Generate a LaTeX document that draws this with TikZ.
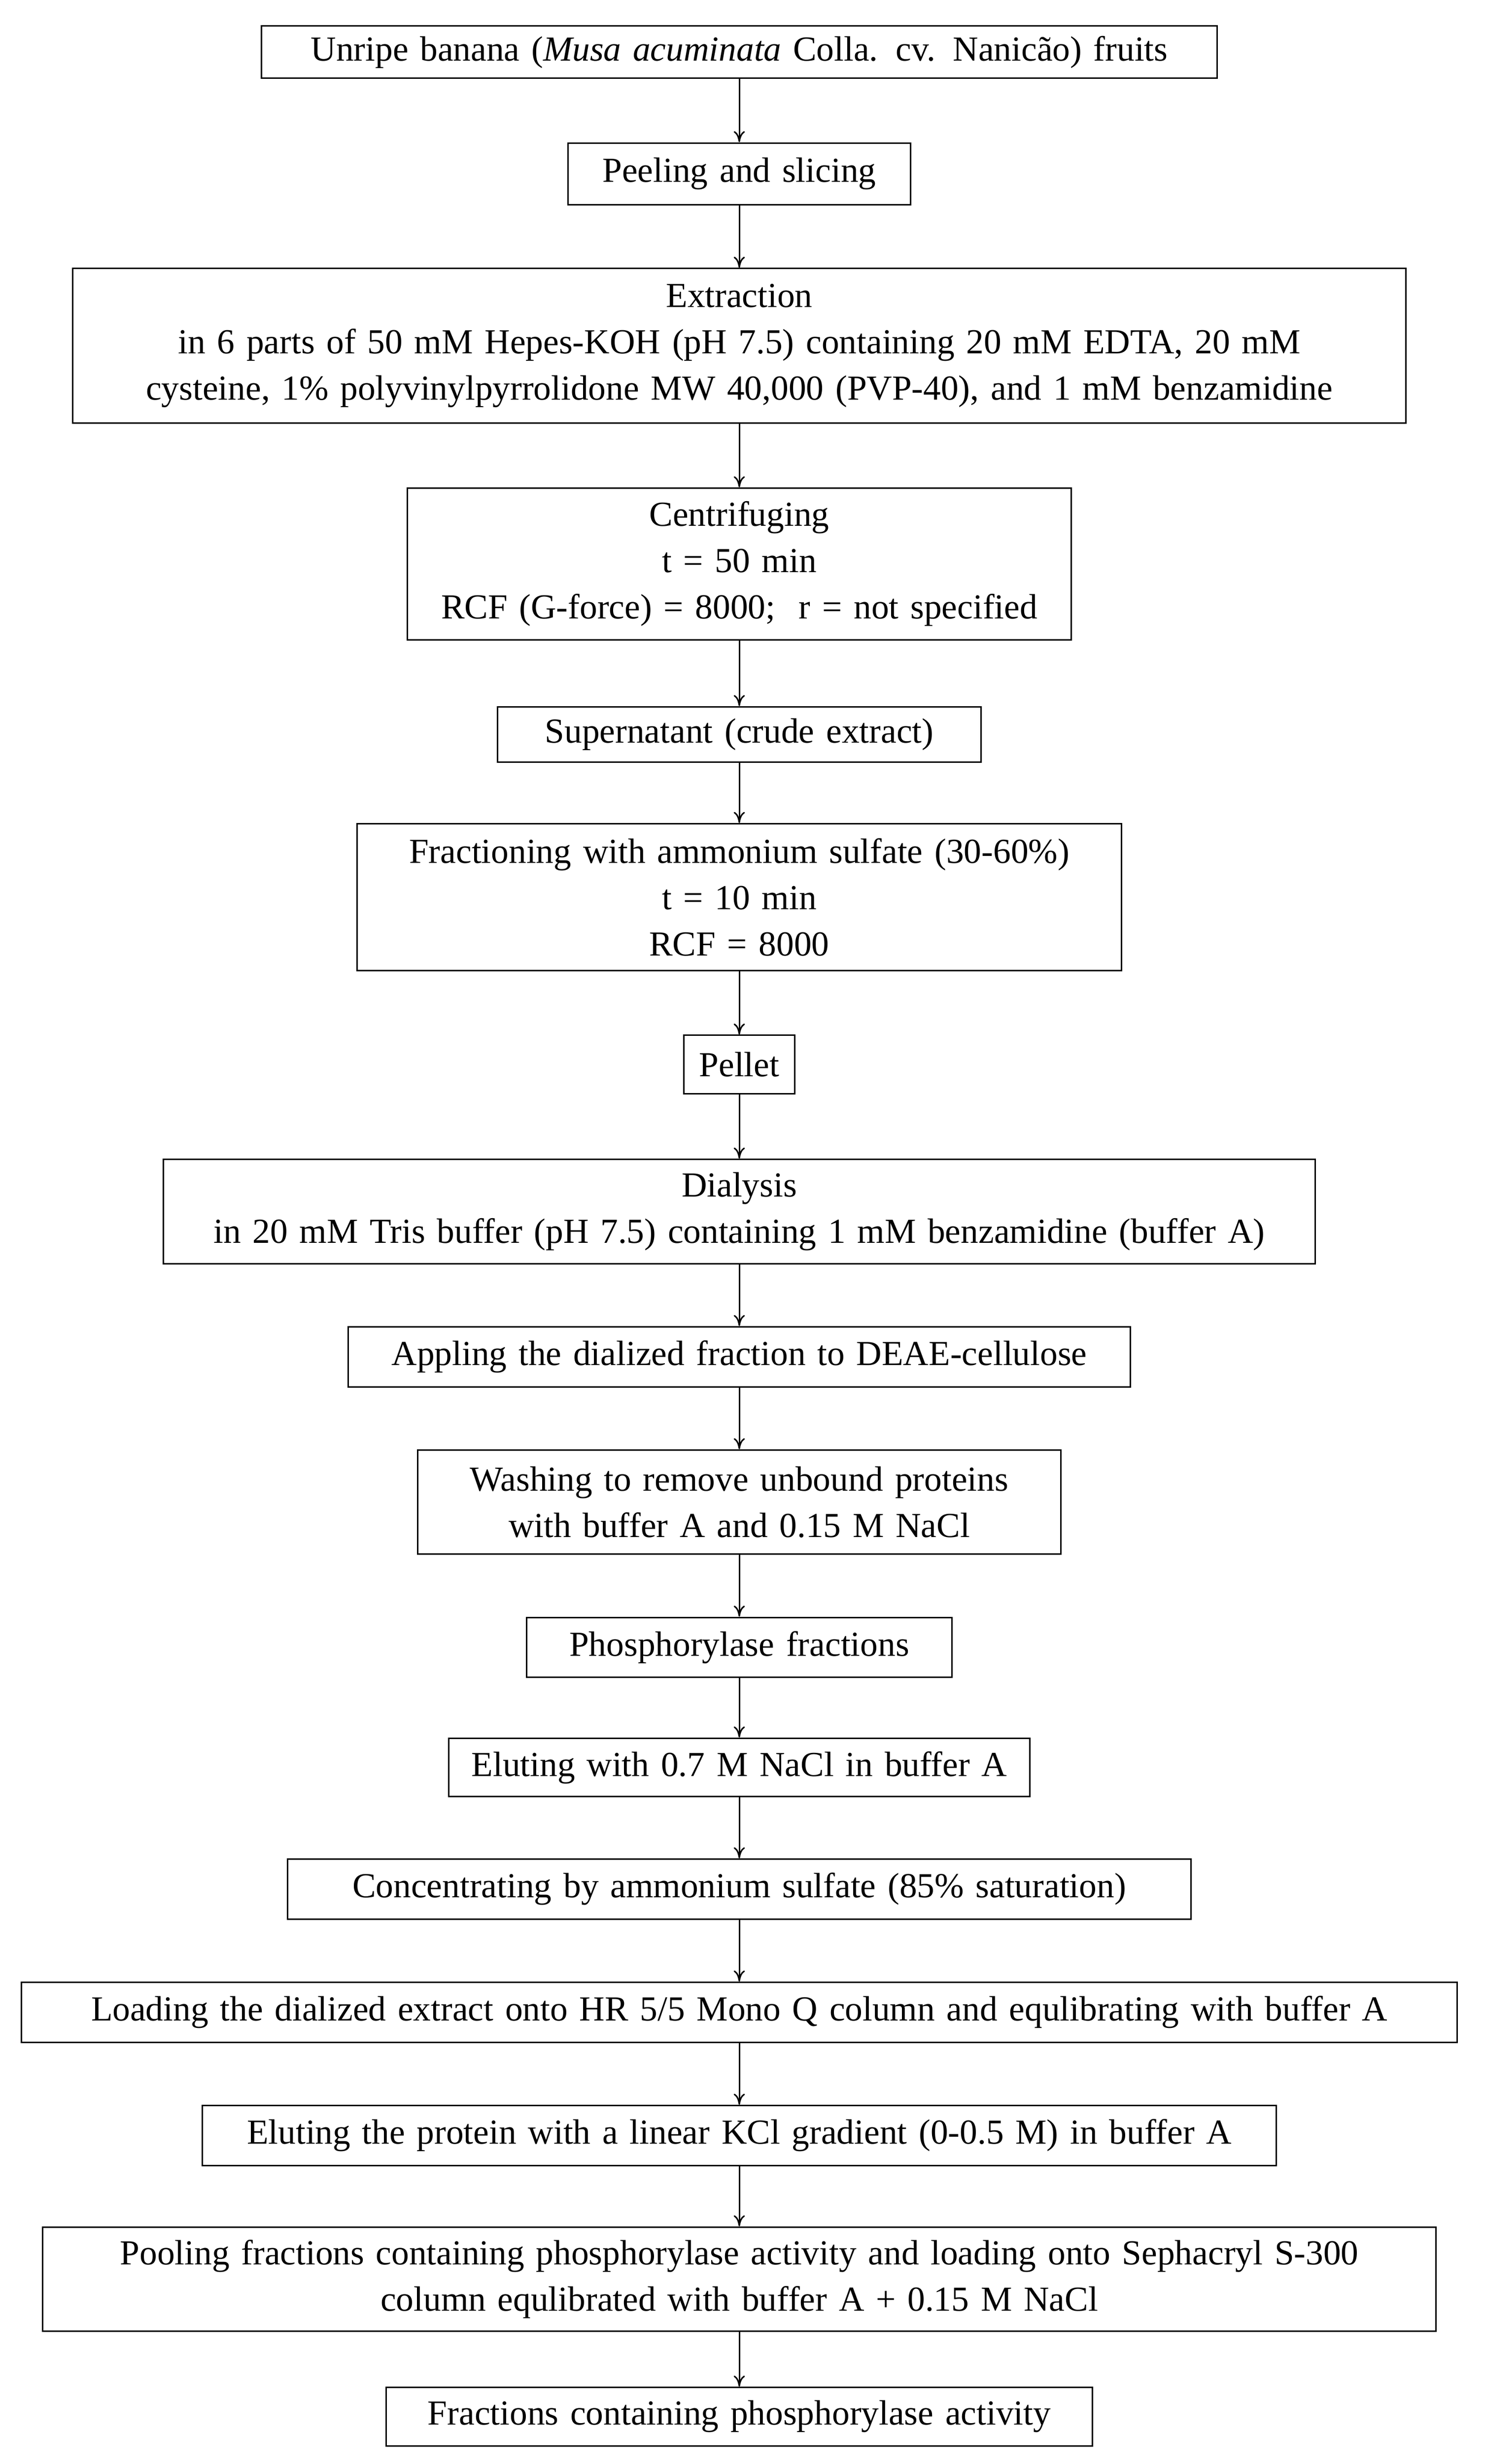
\documentclass[tikz,border=0pt]{standalone}
\usepackage{fontspec}
\setmainfont{Liberation Serif}
\usetikzlibrary{arrows.meta}
\begin{document}
\begin{tikzpicture}[x=0.03cm,y=-0.03cm,
  box/.style={draw,thick,align=center,inner xsep=0pt,inner ysep=2pt,
    font=\fontsize{19}{25}\selectfont},
  flow/.style={-{To[length=6pt,width=6pt]},thick}]
     		\useasboundingbox (0,0) rectangle (940,1560);
     		\node[box,text width=605\pgflinewidth/\pgflinewidth*0.03cm,minimum height=33*0.03cm] (n1) at (468,33) {Unripe banana (\textit{Musa acuminata} Colla. cv. Nanicão) fruits};
     		\node[box,text width=217*0.03cm,minimum height=39*0.03cm] (n2) at (468,110) {Peeling and slicing};
     		\node[box,text width=844*0.03cm,minimum height=98*0.03cm] (n3) at (468,219) {Extraction\\in 6 parts of 50 mM Hepes-KOH (pH 7.5) containing 20 mM EDTA, 20 mM\\cysteine, 1\% polyvinylpyrrolidone MW 40,000 (PVP-40), and 1 mM benzamidine};
     		\node[box,text width=420*0.03cm,minimum height=96*0.03cm] (n4) at (468,357) {Centrifuging\\t = 50 min\\RCF (G-force) = 8000;\ \ r = not specified};
     		\node[box,text width=306*0.03cm,minimum height=35*0.03cm] (n5) at (468,465) {Supernatant (crude extract)};
     		\node[box,text width=484*0.03cm,minimum height=93*0.03cm] (n6) at (468,568) {Fractioning with ammonium sulfate (30-60\%)\\t = 10 min\\RCF = 8000};
     		\node[box,text width=70*0.03cm,minimum height=37*0.03cm] (n7) at (468,674) {Pellet};
     		\node[box,text width=729*0.03cm,minimum height=66*0.03cm] (n8) at (468,767) {Dialysis\\in 20 mM Tris buffer (pH 7.5) containing 1 mM benzamidine (buffer A)};
     		\node[box,text width=495*0.03cm,minimum height=38*0.03cm] (n9) at (468,859) {Appling the dialized fraction to DEAE-cellulose};
     		\node[box,text width=407*0.03cm,minimum height=66*0.03cm] (n10) at (468,951) {Washing to remove unbound proteins\\with buffer A and 0.15 M NaCl};
     		\node[box,text width=269*0.03cm,minimum height=38*0.03cm] (n11) at (468,1043) {Phosphorylase fractions};
     		\node[box,text width=368*0.03cm,minimum height=37*0.03cm] (n12) at (468,1119) {Eluting with 0.7 M NaCl in buffer A};
     		\node[box,text width=572*0.03cm,minimum height=38*0.03cm] (n13) at (468,1196) {Concentrating by ammonium sulfate (85\% saturation)};
     		\node[box,text width=909*0.03cm,minimum height=38*0.03cm] (n14) at (468,1274) {Loading the dialized extract onto HR 5/5 Mono Q column and equlibrating with buffer A};
     		\node[box,text width=680*0.03cm,minimum height=38*0.03cm] (n15) at (468,1352) {Eluting the protein with a linear KCl gradient (0-0.5 M) in buffer A};
     		\node[box,text width=882*0.03cm,minimum height=66*0.03cm] (n16) at (468,1443) {Pooling fractions containing phosphorylase activity and loading onto Sephacryl S-300\\column equlibrated with buffer A + 0.15 M NaCl};
     		\node[box,text width=447*0.03cm,minimum height=37*0.03cm] (n17) at (468,1530) {Fractions containing phosphorylase activity};
     		\foreach \a [evaluate=\a as \b using int(\a+1)] in {1,...,16}
     		  \draw[flow] (n\a) -- (n\b);
\end{tikzpicture}
\end{document}
